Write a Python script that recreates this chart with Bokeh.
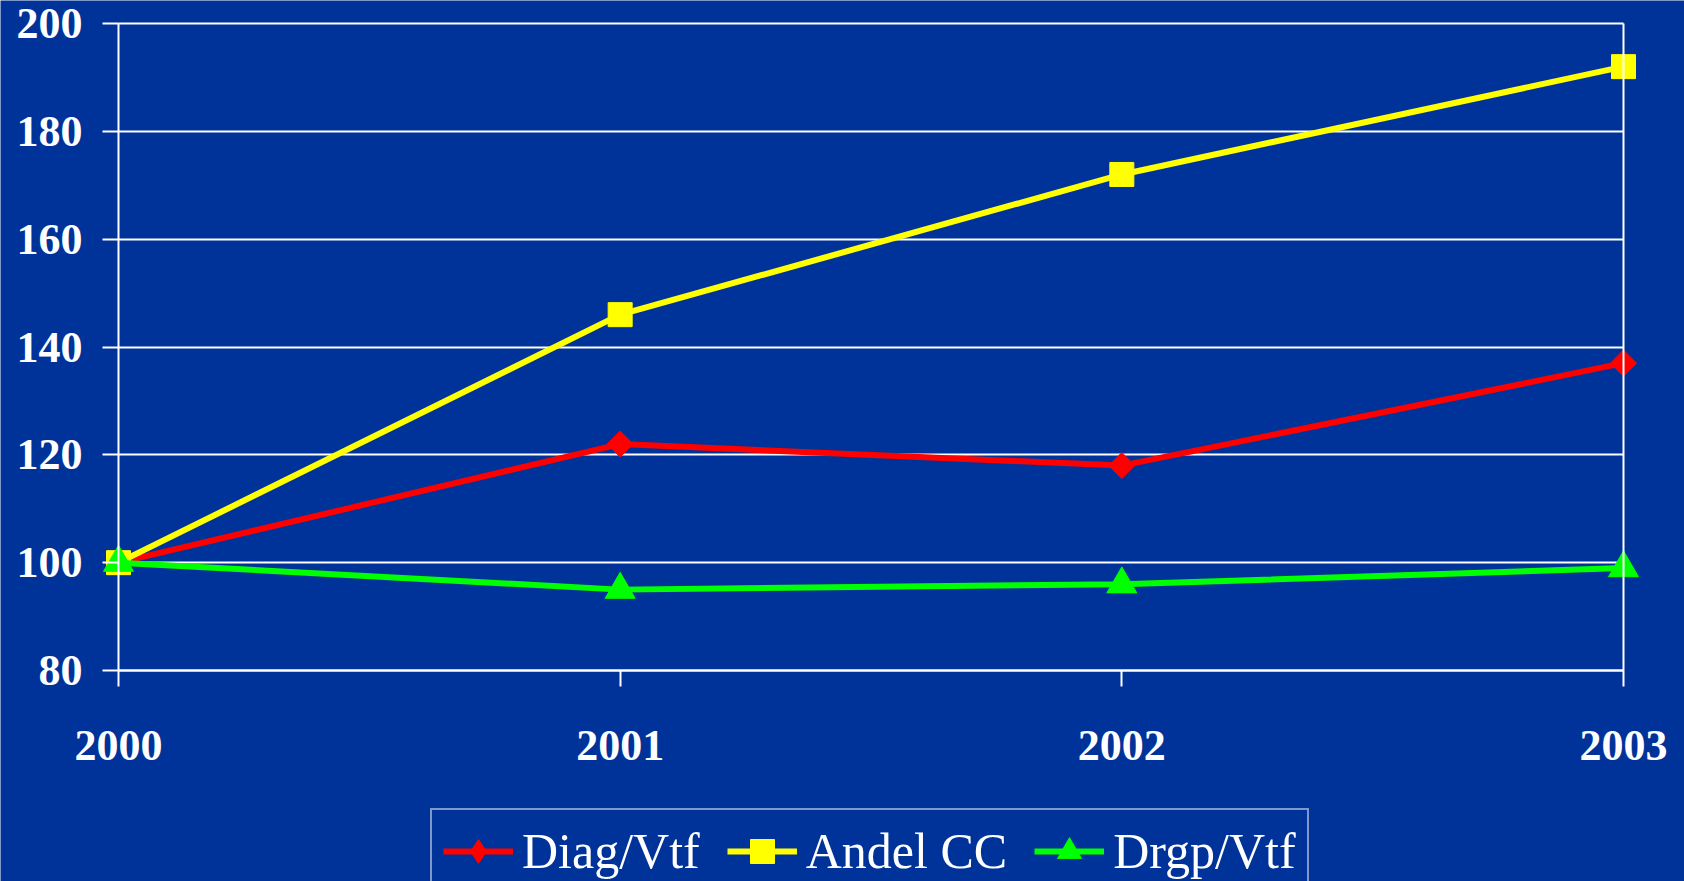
import math
from bokeh.plotting import figure
from bokeh.models import Legend, LegendItem, FixedTicker, LinearAxis
from bokeh.embed import file_html
from bokeh.resources import INLINE

years = ["2000", "2001", "2002", "2003"]
diag_vtf = [100, 122, 118, 137]
andel_cc = [100, 146, 172, 192]
drgp_vtf = [100, 95, 96, 99]
y_ticks = [80, 100, 120, 140, 160, 180, 200]

BG = "#003399"
FONT = "Liberation Serif"

W, H = 1684, 881
# plot box in page pixels (left, right, top, bottom)
BOX_L, BOX_R, BOX_T, BOX_B = 118, 1623, 23, 670

xs = list(range(len(years)))
x0, x1 = 0, len(years) - 1
y0, y1 = y_ticks[0], y_ticks[-1]
sx = (BOX_R - BOX_L) / (x1 - x0)
sy = (BOX_B - BOX_T) / (y1 - y0)

p = figure(width=W, height=H, output_backend="svg", toolbar_location=None,
           x_range=(x0 - BOX_L / sx, x1 + (W - BOX_R) / sx),
           y_range=(y0 - (H - BOX_B) / sy, y1 + BOX_T / sy),
           min_border=0)
p.background_fill_color = BG
p.border_fill_color = BG
p.outline_line_color = None

# grid
p.xgrid.visible = False
p.ygrid.ticker = FixedTicker(ticks=y_ticks)
p.ygrid.grid_line_color = "white"
p.ygrid.grid_line_width = 2
p.ygrid.cross_bounds = (x0, x1)

# x axis at y = 80
p.xaxis.fixed_location = y0
p.xaxis.ticker = FixedTicker(ticks=xs)
p.xaxis.major_label_overrides = {i: y for i, y in enumerate(years)}
p.xaxis.bounds = (x0, x1)
p.xaxis.axis_line_color = "white"
p.xaxis.axis_line_width = 2
p.xaxis.major_tick_line_color = "white"
p.xaxis.major_tick_line_width = 2
p.xaxis.major_tick_in = 0
p.xaxis.major_tick_out = 16
p.xaxis.minor_tick_line_color = None
p.xaxis.major_label_standoff = 44

# y axis at first category
p.yaxis.fixed_location = x0
p.yaxis.ticker = FixedTicker(ticks=y_ticks)
p.yaxis.bounds = (y0, y1)
p.yaxis.axis_line_color = "white"
p.yaxis.axis_line_width = 2
p.yaxis.major_tick_line_color = "white"
p.yaxis.major_tick_line_width = 2
p.yaxis.major_tick_in = 0
p.yaxis.major_tick_out = 16
p.yaxis.minor_tick_line_color = None
p.yaxis.major_label_standoff = 20

for ax in (p.xaxis, p.yaxis):
    ax.major_label_text_font = FONT
    ax.major_label_text_font_style = "bold"
    ax.major_label_text_font_size = "44px"
    ax.major_label_text_color = "white"

# right edge of the plot box at last category
right_edge = LinearAxis(fixed_location=x1, bounds=(y0, y1), ticker=FixedTicker(ticks=[]),
                        axis_line_color="white", axis_line_width=2,
                        major_tick_line_color=None, minor_tick_line_color=None,
                        major_label_text_font_size="0px")
p.add_layout(right_edge, "right")

items = []

# Diag/Vtf: red line with diamonds (a hidden narrow diamond supplies the legend glyph)
l = p.line(xs, diag_vtf, line_color="#ff0000", line_width=6)
d = p.scatter(xs, diag_vtf, marker="diamond", size=18, fill_color="#ff0000", line_color="#ff0000")
p.scatter(xs, diag_vtf, marker="square", size=18.5, angle=math.pi / 4,
          fill_color="#ff0000", line_color="#ff0000")
items.append(LegendItem(label="Diag/Vtf", renderers=[l, d]))

# Andel CC: yellow line with squares
l = p.line(xs, andel_cc, line_color="#ffff00", line_width=6)
s = p.scatter(xs, andel_cc, marker="square", size=24, fill_color="#ffff00", line_color="#ffff00")
items.append(LegendItem(label="Andel CC", renderers=[l, s]))

# Drgp/Vtf: green line with triangles
l = p.line(xs, drgp_vtf, line_color="#00ff00", line_width=6)
s = p.scatter(xs, drgp_vtf, marker="triangle", size=30, fill_color="#00ff00", line_color="#00ff00")
items.append(LegendItem(label="Drgp/Vtf", renderers=[l, s]))

legend = Legend(items=items, orientation="horizontal", location=(430, -13))
legend.label_text_font = FONT
legend.label_text_font_size = "50px"
legend.label_text_color = "white"
legend.background_fill_alpha = 0
legend.border_line_color = "white"
legend.border_line_width = 2
legend.glyph_width = 70
legend.glyph_height = 60
legend.label_height = 60
legend.label_standoff = 9
legend.spacing = 27
legend.padding = 11
legend.margin = 0
p.add_layout(legend, "center")

open("out.html", "w").write(file_html(p, INLINE))
